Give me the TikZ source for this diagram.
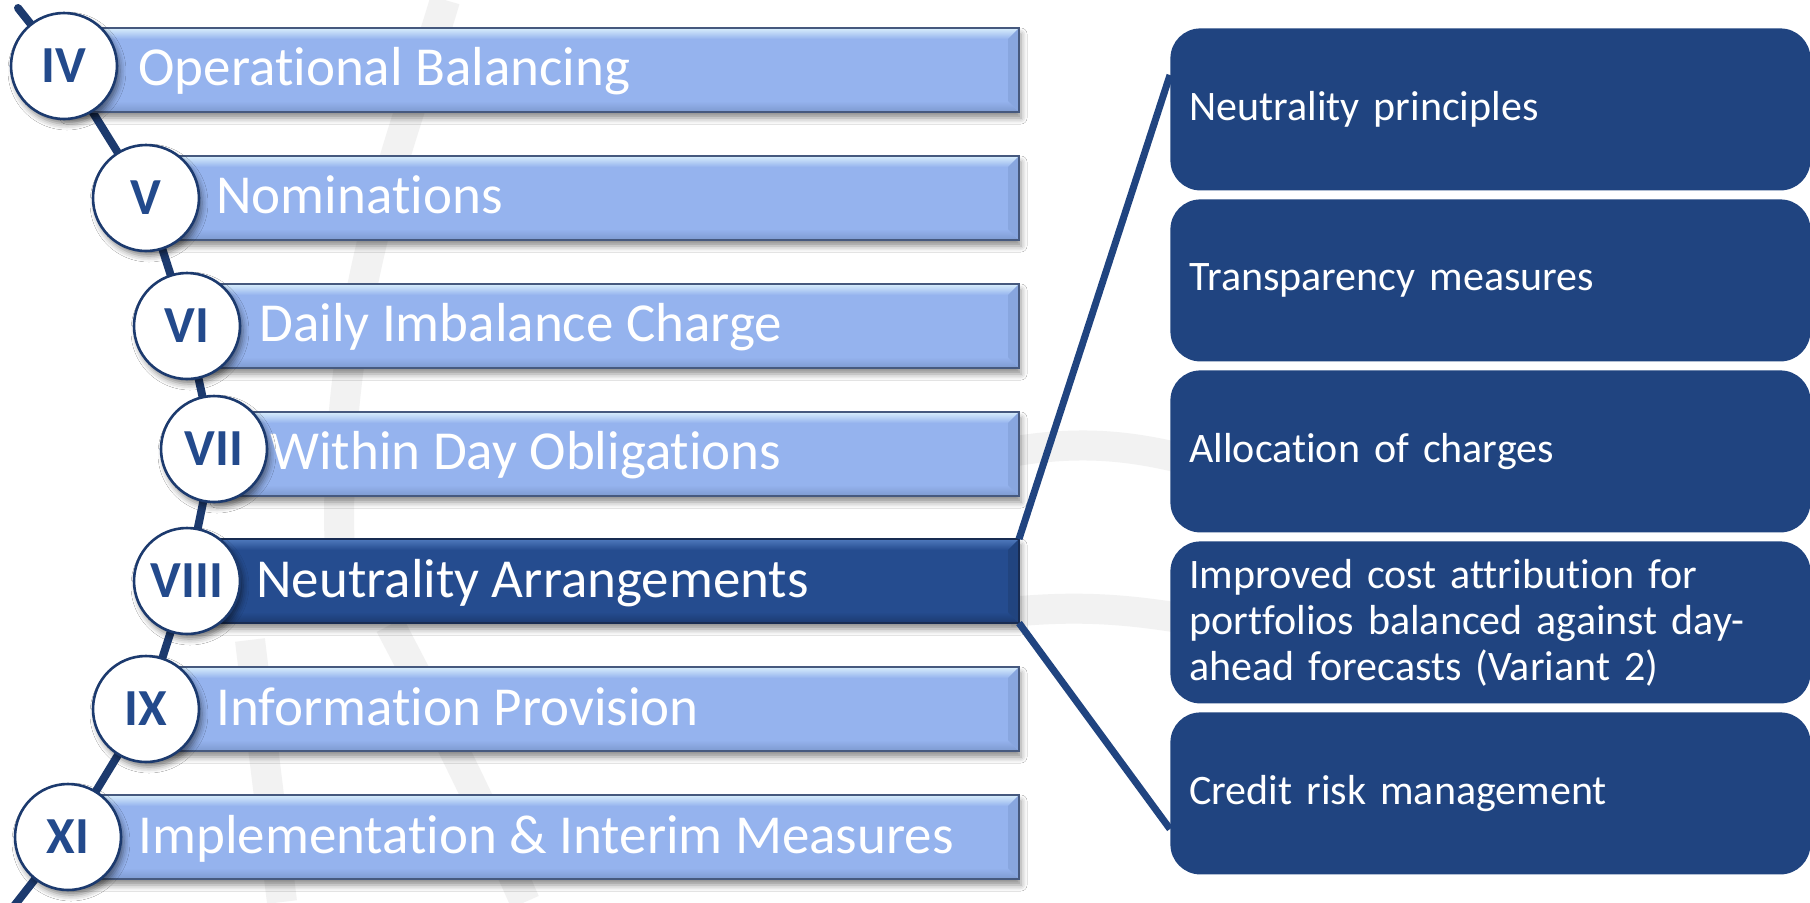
\documentclass[tikz,border=0pt]{standalone}
\usepackage{fontspec}
\setmainfont{Carlito}[Ligatures={NoCommon,NoContextual}]
\usetikzlibrary{shadows.blur,calc}
\definecolor{barbase}{HTML}{95B3EE}
\definecolor{barlight}{HTML}{D8EEFC}
\definecolor{bardark}{HTML}{7E9AD0}
\definecolor{barright}{HTML}{88A6DF}
\definecolor{baredge}{HTML}{46597E}
\definecolor{selbase}{HTML}{254C8F}
\definecolor{sellight}{HTML}{4F79BC}
\definecolor{seldark}{HTML}{1B3A70}
\definecolor{selright}{HTML}{21447F}
\definecolor{seledge}{HTML}{182C52}
\definecolor{navy}{HTML}{1C3A6E}
\definecolor{boxblue}{HTML}{204480}
\definecolor{romancol}{HTML}{234A8C}
\definecolor{wmgray}{HTML}{F2F2F2}
\newcommand\tisep{t\kern0pt i}
\newcommand\bevelbar[6]{%
  \fill[#2, blur shadow={shadow xshift=1pt, shadow yshift=-3pt, shadow blur radius=3pt, shadow opacity=45}] (#1.north west) rectangle (#1.south east);
  \shade[top color=#3, bottom color=#2] (#1.north west) -- (#1.north east) -- ([xshift=-5.5pt,yshift=-5.5pt]#1.north east) -- ([yshift=-5.5pt]#1.north west) -- cycle;
  \shade[top color=#2, bottom color=#4] ([yshift=5.5pt]#1.south west) -- ([xshift=-5.5pt,yshift=5.5pt]#1.south east) -- (#1.south east) -- (#1.south west) -- cycle;
  \fill[#5] (#1.north east) -- ([xshift=-5.5pt,yshift=-5.5pt]#1.north east) -- ([xshift=-5.5pt,yshift=5.5pt]#1.south east) -- (#1.south east) -- cycle;
  \draw[#6, line width=0.6pt] (#1.north west) rectangle (#1.south east);
}
\tikzset{
  barbox/.style={rectangle, anchor=north west, minimum height=42pt, inner sep=0pt, outer sep=0pt},
  bartext/.style={anchor=base west, inner sep=0pt, text=white, font=\fontsize{27.5}{30}\selectfont},
  roman/.style={circle, minimum size=53pt, inner sep=0pt, fill=white, draw=navy, line width=1.3pt,
    text=romancol, font=\bfseries\fontsize{26}{28}\selectfont,
    blur shadow={shadow xshift=1.5pt, shadow yshift=-2.5pt, shadow blur radius=3pt, shadow opacity=50}},
  rbox/.style={rectangle, rounded corners=15pt, fill=boxblue, anchor=north west, minimum width=320pt,
    minimum height=81pt, text width=301pt, inner xsep=9.5pt, align=left, text=white,
    font=\fontsize{21}{23}\selectfont},
  spine/.style={navy, line width=4pt, line cap=round},
  link/.style={boxblue, line width=3.5pt},
  wmark/.style={wmgray, line width=15pt}
}
\begin{document}
\begin{tikzpicture}[x=0.5pt,y=-0.5pt]
\fill[white] (0,0) rectangle (1810,902);
\useasboundingbox (0,0) rectangle (1810,902);

% faint watermark
\draw[wmark] (1010,452) .. controls (1080,440) and (1130,446) .. (1180,458);
\draw[wmark] (1010,612) .. controls (1080,605) and (1130,610) .. (1180,618);
\draw[wmark] (445,0) .. controls (410,120) and (330,300) .. (340,560);
\draw[wmark] (250,640) .. controls (262,740) and (272,820) .. (282,902);
\draw[wmark] (390,625) .. controls (440,720) and (480,800) .. (525,902);

% circle centres and spine (drawn first, under bars and circles)
\coordinate (p4) at (64,66);
\coordinate (p5) at (146,198);
\coordinate (p6) at (187,326);
\coordinate (p7) at (214,449);
\coordinate (p8) at (187,581);
\coordinate (p9) at (146,709);
\coordinate (p11) at (68,837);
\coordinate (stop) at (18,8);
\coordinate (sbot) at (14,906);
\draw[spine] (stop) -- (p4) -- (p5) -- (p6) -- (p7) -- (p8) -- (p9) -- (p11) -- (sbot);

% bars
\node[barbox, minimum width=477.5pt] (b4) at (64,28) {};
\node[barbox, minimum width=436.5pt] (b5) at (146,156) {};
\node[barbox, minimum width=416pt] (b6) at (187,284) {};
\node[barbox, minimum width=402.5pt] (b7) at (214,412) {};
\node[barbox, minimum width=416pt] (b8) at (187,539) {};
\node[barbox, minimum width=436.5pt] (b9) at (146,667) {};
\node[barbox, minimum width=475.5pt] (b11) at (68,795) {};
\bevelbar{b4}{barbase}{barlight}{bardark}{barright}{baredge}
\bevelbar{b5}{barbase}{barlight}{bardark}{barright}{baredge}
\bevelbar{b6}{barbase}{barlight}{bardark}{barright}{baredge}
\bevelbar{b7}{barbase}{barlight}{bardark}{barright}{baredge}
\bevelbar{b8}{selbase}{sellight}{seldark}{selright}{seledge}
\bevelbar{b9}{barbase}{barlight}{bardark}{barright}{baredge}
\bevelbar{b11}{barbase}{barlight}{bardark}{barright}{baredge}

% bar texts
\node[bartext] (t4) at (138,85) {Opera\tisep onal Balancing};
\node[bartext] (t5) at (216,213) {Nomina\tisep ons};
\node[bartext] (t6) at (259,341) {Daily Imbalance Charge};
\node[bartext] (t7) at (270,469) {Within Day Obliga\tisep ons};
\node[bartext] (t8) at (256,597) {Neutrality Arrangements};
\node[bartext] (t9) at (216,725) {Informa\tisep on Provision};
\node[bartext] (t11) at (138,853) {Implementa\tisep on \& Interim Measures};

% circles
\node[roman] (c4) at (p4) {IV};
\node[roman] (c5) at (p5) {V};
\node[roman] (c6) at (p6) {VI};
\node[roman] (c7) at (p7) {VII};
\node[roman] (c8) at (p8) {VIII};
\node[roman] (c9) at (p9) {IX};
\node[roman] (c11) at (p11) {XI};

% right boxes
\node[rbox] (n1) at (1170,28) {Neutrality principles};
\node[rbox] (n2) at (1170,199) {Transparency measures};
\node[rbox] (n3) at (1170,370) {Alloca\tisep on of charges};
\node[rbox] (n4) at (1170,541) {Improved cost attribu\tisep on for\\portfolios balanced against day-\\ahead forecasts (Variant 2)};
\node[rbox] (n5) at (1170,712) {Credit risk management};

% links
\draw[link] (b8.north east) -- ([yshift=-23.5pt]n1.north west);
\draw[link] (b8.south east) -- ([yshift=-58.5pt]n5.north west);
\end{tikzpicture}
\end{document}
